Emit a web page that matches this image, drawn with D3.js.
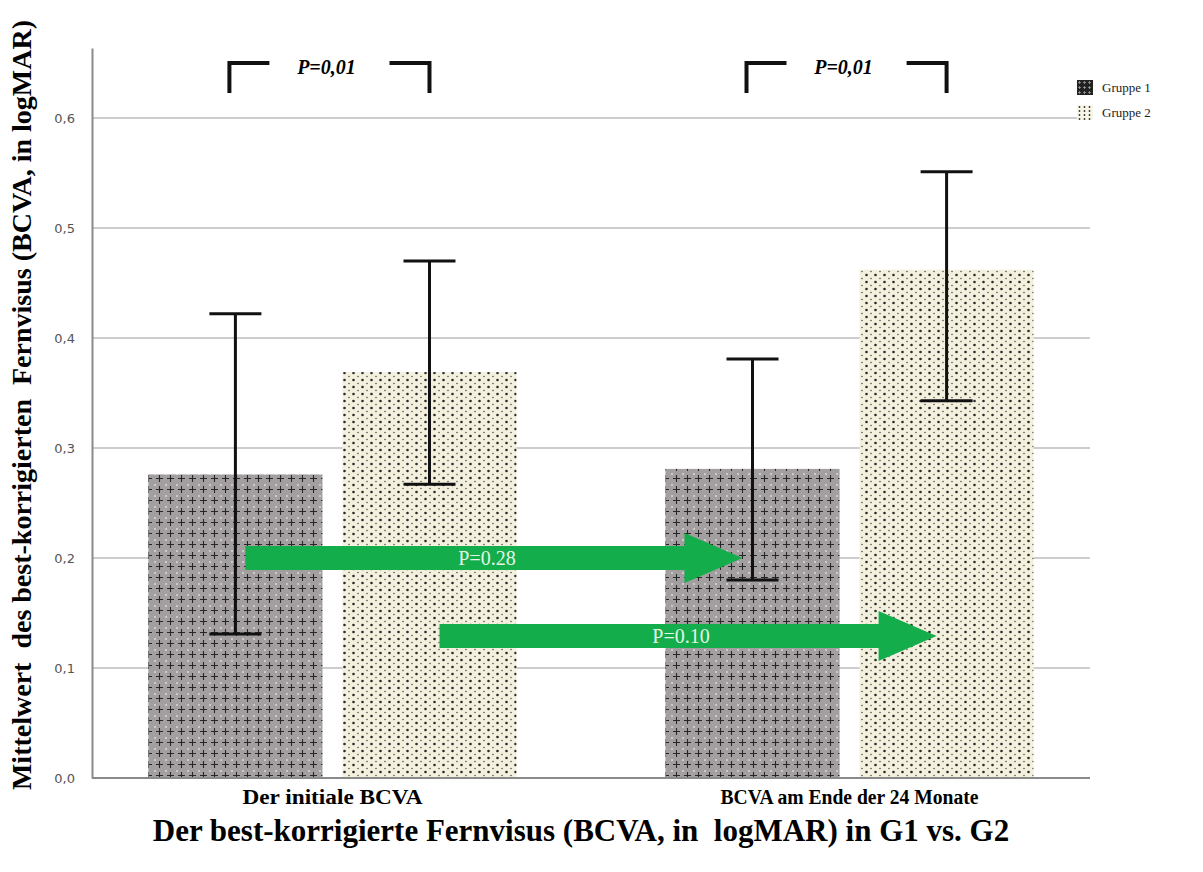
<!DOCTYPE html>
<html>
<head>
<meta charset="utf-8">
<script src="https://cdn.jsdelivr.net/npm/d3@7"></script>
<style>
  body { margin: 0; background: #fff; }
  svg { display: block; }
</style>
</head>
<body>
<div class="canvas"></div>
<script>
// data
const categories = ['Der initiale BCVA', 'BCVA am Ende der 24 Monate'];
const groups = ['Gruppe 1', 'Gruppe 2'];
const means = [[0.276, 0.369], [0.281, 0.462]];
const upper = [[0.422, 0.470], [0.381, 0.551]];
const lower = [[0.131, 0.267], [0.180, 0.343]];
const yTicks = [0, 0.1, 0.2, 0.3, 0.4, 0.5, 0.6];
const bracketLabels = ['P=0,01', 'P=0,01'];
const arrowLevels = [0.2, 0.129];
const arrowLabels = ['P=0.28', 'P=0.10'];

const width = 1203, height = 872;
const serif = '"Liberation Serif", "Times New Roman", serif';

const svg = d3.select('.canvas')
  .append('svg')
    .attr('width', width)
    .attr('height', height);

const defs = svg.append('defs');

// pattern for Gruppe 1: grey with black crosses
const p1 = defs.append('pattern')
  .attr('id', 'pat1')
  .attr('patternUnits', 'userSpaceOnUse')
  .attr('width', 11).attr('height', 11);
p1.append('rect').attr('width', 11).attr('height', 11).attr('fill', '#a39ea0');
p1.append('path').attr('d', 'M5.5,2V9M2,5.5H9').attr('stroke', '#262626').attr('stroke-width', 1.1);
p1.append('rect').attr('x', 0).attr('y', 0).attr('width', 2).attr('height', 2).attr('fill', '#cdc8c9');

// pattern for Gruppe 2: cream with small dots
const p2 = defs.append('pattern')
  .attr('id', 'pat2')
  .attr('patternUnits', 'userSpaceOnUse')
  .attr('width', 9).attr('height', 7);
p2.append('rect').attr('width', 9).attr('height', 7).attr('fill', '#f4f0de');
p2.append('circle').attr('cx', 2.5).attr('cy', 2).attr('r', 1.3).attr('fill', '#2a2a2a');
p2.append('circle').attr('cx', 7).attr('cy', 5.5).attr('r', 0.8).attr('fill', '#555');

// legend patterns (denser)
const p1s = defs.append('pattern')
  .attr('id', 'pat1s')
  .attr('patternUnits', 'userSpaceOnUse')
  .attr('width', 5).attr('height', 5);
p1s.append('rect').attr('width', 5).attr('height', 5).attr('fill', '#222');
p1s.append('path').attr('d', 'M2.5,1V4M1,2.5H4').attr('stroke', '#999').attr('stroke-width', 0.8);

const p2s = defs.append('pattern')
  .attr('id', 'pat2s')
  .attr('patternUnits', 'userSpaceOnUse')
  .attr('width', 5).attr('height', 4);
p2s.append('rect').attr('width', 5).attr('height', 4).attr('fill', '#f8f6e6');
p2s.append('circle').attr('cx', 2.5).attr('cy', 2).attr('r', 0.9).attr('fill', '#333');

const fills = ['url(#pat1)', 'url(#pat2)'];
const legendFills = ['url(#pat1s)', 'url(#pat2s)'];

// scales
const plotLeft = 92, plotRight = 1090;
const y = d3.scaleLinear()
  .domain([0, 0.6636])
  .range([778, 48]);

const x0 = d3.scaleBand()
  .domain(categories)
  .range([plotLeft, plotRight])
  .paddingInner(0.288)
  .paddingOuter(0.109);

const x1 = d3.scaleBand()
  .domain(groups)
  .range([0, x0.bandwidth()])
  .paddingInner(0.103);

const barCenter = (ci, gi) => x0(categories[ci]) + x1(groups[gi]) + x1.bandwidth() / 2;

// grid lines
svg.append('g')
  .selectAll('line')
  .data(yTicks.filter(d => d > 0))
  .join('line')
    .attr('x1', plotLeft).attr('x2', plotRight)
    .attr('y1', d => y(d)).attr('y2', d => y(d))
    .attr('stroke', '#bdbdbd')
    .attr('stroke-width', 1.5);

// y axis line + tick labels
const yAxis = d3.axisLeft(y)
  .tickValues(yTicks)
  .tickSize(0)
  .tickPadding(17)
  .tickFormat(d => d3.format('.1f')(d).replace('.', ','));

const yAxisGroup = svg.append('g')
  .attr('transform', `translate(${plotLeft},0)`)
  .call(yAxis);
yAxisGroup.select('.domain').attr('stroke', '#8a8a8a').attr('stroke-width', 2);
yAxisGroup.selectAll('text')
  .attr('fill', '#555')
  .style('font-family', '"DejaVu Sans", sans-serif')
  .style('font-size', '13px');

// bars
const barData = [];
categories.forEach((c, ci) => groups.forEach((g, gi) => barData.push({
  ci, gi, mean: means[ci][gi], hi: upper[ci][gi], lo: lower[ci][gi]
})));

svg.append('g')
  .selectAll('rect')
  .data(barData)
  .join('rect')
    .attr('x', d => x0(categories[d.ci]) + x1(groups[d.gi]))
    .attr('y', d => y(d.mean))
    .attr('width', x1.bandwidth())
    .attr('height', d => y(0) - y(d.mean))
    .attr('fill', d => fills[d.gi]);

// baseline
svg.append('line')
  .attr('x1', plotLeft).attr('x2', plotRight)
  .attr('y1', y(0)).attr('y2', y(0))
  .attr('stroke', '#8a8a8a')
  .attr('stroke-width', 2);

// green arrows (drawn under error bars)
const arrowData = [
  { from: [0, 0], to: [1, 0], level: arrowLevels[0], label: arrowLabels[0] },
  { from: [0, 1], to: [1, 1], level: arrowLevels[1], label: arrowLabels[1] }
];
const shaftH = 24, headH = 50, headL = 58;
const arrows = svg.append('g')
  .selectAll('g')
  .data(arrowData)
  .join('g');
arrows.append('path')
  .attr('fill', '#13ad4b')
  .attr('d', d => {
    const xs = barCenter(d.from[0], d.from[1]) + 10;
    const xe = barCenter(d.to[0], d.to[1]) - 10;
    const yc = y(d.level);
    const xb = xe - headL;
    return `M${xs},${yc - shaftH / 2}H${xb}V${yc - headH / 2}L${xe},${yc}L${xb},${yc + headH / 2}V${yc + shaftH / 2}H${xs}Z`;
  });
arrows.append('text')
  .attr('x', d => (barCenter(d.from[0], d.from[1]) + barCenter(d.to[0], d.to[1]) - headL) / 2 + 22)
  .attr('y', d => y(d.level) + 7)
  .attr('text-anchor', 'middle')
  .attr('fill', '#e6f6e4')
  .style('font-family', serif)
  .style('font-size', '20px')
  .text(d => d.label);

// error bars
const capW = 52;
const err = svg.append('g')
  .selectAll('g')
  .data(barData)
  .join('g')
    .attr('stroke', '#111')
    .attr('stroke-width', 3);
err.append('line')
  .attr('x1', d => barCenter(d.ci, d.gi)).attr('x2', d => barCenter(d.ci, d.gi))
  .attr('y1', d => y(d.hi)).attr('y2', d => y(d.lo));
err.append('line')
  .attr('x1', d => barCenter(d.ci, d.gi) - capW / 2).attr('x2', d => barCenter(d.ci, d.gi) + capW / 2)
  .attr('y1', d => y(d.hi)).attr('y2', d => y(d.hi));
err.append('line')
  .attr('x1', d => barCenter(d.ci, d.gi) - capW / 2).attr('x2', d => barCenter(d.ci, d.gi) + capW / 2)
  .attr('y1', d => y(d.lo)).attr('y2', d => y(d.lo));

// significance brackets
const brTop = 63, brBot = 93, brArm = 40;
const brackets = svg.append('g')
  .selectAll('g')
  .data(categories)
  .join('g');
brackets.append('path')
  .attr('fill', 'none')
  .attr('stroke', '#111')
  .attr('stroke-width', 4)
  .attr('d', (d, i) => {
    const a = barCenter(i, 0) - 6, b = barCenter(i, 1);
    return `M${a},${brBot}V${brTop}H${a + brArm}M${b - brArm},${brTop}H${b}V${brBot}`;
  });
brackets.append('text')
  .attr('x', (d, i) => (barCenter(i, 0) + barCenter(i, 1)) / 2 - 6)
  .attr('y', brTop + 11)
  .attr('text-anchor', 'middle')
  .style('font-family', serif)
  .style('font-weight', 'bold')
  .style('font-style', 'italic')
  .style('font-size', '20px')
  .text((d, i) => bracketLabels[i]);

// category labels
const catWidths = [180, 258];
svg.append('g')
  .selectAll('text')
  .data(categories)
  .join('text')
    .attr('x', d => x0(d) + x0.bandwidth() / 2)
    .attr('y', 804)
    .attr('text-anchor', 'middle')
    .attr('textLength', (d, i) => catWidths[i])
    .attr('lengthAdjust', 'spacingAndGlyphs')
    .style('font-family', serif)
    .style('font-weight', 'bold')
    .style('font-size', '20px')
    .text(d => d);

// axis titles
svg.append('text')
  .attr('x', 581)
  .attr('y', 841)
  .attr('text-anchor', 'middle')
  .style('font-family', serif)
  .style('font-weight', 'bold')
  .style('font-size', '31px')
  .style('white-space', 'pre')
  .text('Der best-korrigierte Fernvisus (BCVA, in  logMAR) in G1 vs. G2');

svg.append('text')
  .attr('transform', 'translate(31,405) rotate(-90)')
  .attr('text-anchor', 'middle')
  .style('font-family', serif)
  .style('font-weight', 'bold')
  .style('font-size', '28px')
  .style('white-space', 'pre')
  .text('Mittelwert  des best-korrigierten  Fernvisus (BCVA, in logMAR)');

// legend
const legend = svg.append('g')
  .selectAll('g')
  .data(groups)
  .join('g')
    .attr('transform', (d, i) => `translate(1077,${80 + i * 25})`);
legend.append('rect')
  .attr('width', 16).attr('height', 15)
  .attr('fill', (d, i) => legendFills[i]);
legend.append('text')
  .attr('x', 25).attr('y', 12)
  .style('font-family', serif)
  .style('font-size', '13px')
  .attr('fill', '#222')
  .text(d => d);
</script>
</body>
</html>
